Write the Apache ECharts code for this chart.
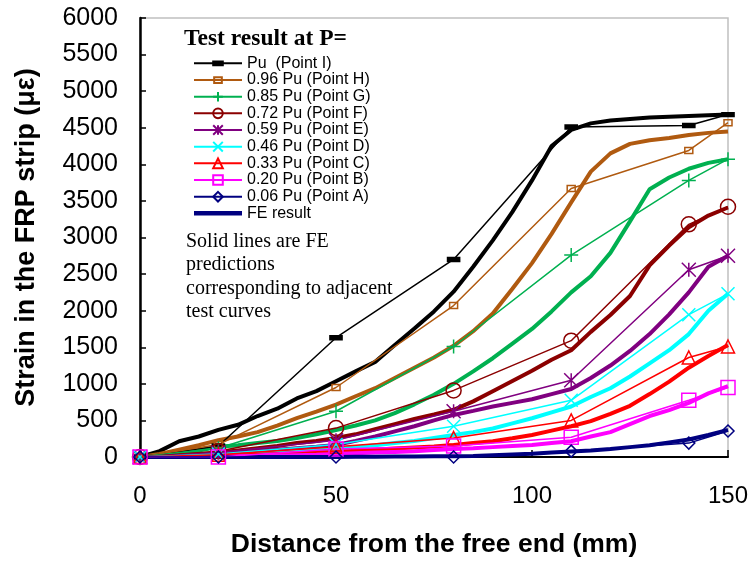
<!DOCTYPE html>
<html><head><meta charset="utf-8">
<script src="https://cdn.jsdelivr.net/npm/echarts@6/dist/echarts.min.js"></script>
<style>html,body{margin:0;padding:0;background:#fff}#c{width:753px;height:563px}</style>
</head><body><div id="c"></div>
<script>
// ---- data ----
const xTicks = [0, 50, 100, 150];
const testX = [0, 20, 50, 80, 110, 140, 150];
const testI = [0, 150, 1630, 2700, 4510, 4530, 4680];
const testH = [0, 170, 950, 2070, 3670, 4190, 4570];
const testG = [0, 120, 625, 1510, 2760, 3780, 4070];
const testF = [0, 80, 395, 910, 1590, 3180, 3420];
const testE = [0, 60, 230, 625, 1050, 2560, 2750];
const testD = [0, 40, 170, 420, 775, 1945, 2230];
const testC = [0, 30, 140, 260, 500, 1360, 1510];
const testB = [0, 0, 110, 150, 270, 775, 950];
const testA = [0, 0, 0, 0, 80, 190, 355];

const feX = [0,5,10,15,20,25,30,35,40,45,50,55,60,65,70,75,80,85,90,95,100,105,110,115,120,125,130,135,140,145,150];
const feI = [0,80,215,280,370,440,560,660,800,900,1035,1170,1300,1530,1755,1990,2260,2600,2960,3350,3780,4250,4470,4560,4600,4620,4640,4650,4660,4670,4680];
const feH = [0,40,100,160,230,280,340,430,530,620,715,830,940,1080,1220,1360,1520,1720,1960,2300,2650,3050,3480,3900,4150,4280,4330,4360,4400,4430,4450];
const feG = [0,20,50,90,140,160,190,220,260,310,370,430,500,600,720,850,1000,1170,1350,1550,1750,1990,2250,2470,2790,3220,3660,3820,3940,4020,4070];
const feF = [0,10,20,35,60,90,120,150,190,220,260,310,380,450,520,580,645,760,900,1040,1180,1330,1460,1710,1940,2200,2620,2890,3140,3300,3410];
const feE = [0,5,10,20,35,55,80,100,120,140,165,220,280,350,420,500,575,630,690,740,790,860,930,1080,1250,1450,1680,1950,2250,2600,2750];
const feD = [0,2,5,10,15,25,40,55,70,90,110,135,160,190,220,260,300,340,390,460,530,610,690,820,940,1100,1280,1460,1680,2000,2230];
const feC = [0,2,5,8,10,20,30,40,50,60,70,85,100,115,130,145,165,190,215,255,300,360,420,490,590,700,860,1030,1220,1380,1530];
const feB = [0,0,0,3,5,10,15,20,25,30,40,50,60,70,80,95,110,120,135,150,165,190,215,280,340,450,560,640,740,870,970];
const feA = [0,0,0,0,0,0,0,0,0,0,0,2,4,6,8,9,10,15,25,35,45,60,75,90,110,135,160,200,240,300,370];

const legendNames = ['Pu  (Point I)', '0.96 Pu (Point H)', '0.85 Pu (Point G)', '0.72 Pu (Point F)',
  '0.59 Pu (Point E)', '0.46 Pu (Point D)', '0.33 Pu (Point C)', '0.20 Pu (Point B)', '0.06 Pu (Point A)', 'FE result'];

// ---- styling ----
const colors = ['#000000', '#b05a10', '#00b050', '#8b0000', '#800080', '#00ffff', '#ff0000', '#ff00ff', '#000080'];
const DASH = 'path://M0,0M12,10M0,3L12,3L12,7L0,7Z';
const SMALLRECT = 'path://M0,0M10,10M1,2L9,2L9,8L1,8Z';
const PLUS = 'path://M0,5L10,5M5,0L5,10';
const CROSS = 'path://M0,0L10,10M10,0L0,10';
const STAR = 'path://M0,0L10,10M10,0L0,10M5,0L5,10';
const symbols = [
  {symbol: DASH, size: [12, 10], fill: '#000'},
  {symbol: SMALLRECT, size: [10, 10], fill: 'none'},
  {symbol: PLUS, size: 14, fill: 'none'},
  {symbol: 'circle', size: 15, fill: 'none'},
  {symbol: STAR, size: 14, fill: 'none'},
  {symbol: CROSS, size: 13, fill: 'none'},
  {symbol: 'triangle', size: 13, fill: 'none'},
  {symbol: 'rect', size: 14, fill: 'none'},
  {symbol: 'diamond', size: 12, fill: 'none'}
];
const tests = [testI, testH, testG, testF, testE, testD, testC, testB, testA];
const fes = [feI, feH, feG, feF, feE, feD, feC, feB, feA];
const zip = (xs, ys) => xs.map((x, i) => [x, ys[i]]);

const series = [];
fes.forEach((ys, k) => {
  series.push({
    name: k === 8 ? 'FE result' : 'FE ' + k,
    type: 'line', data: zip(feX, ys), symbol: 'none', silent: true, z: 2,
    lineStyle: {color: colors[k], width: 4},
    itemStyle: {color: colors[k]}
  });
});
tests.forEach((ys, k) => {
  const s = symbols[k];
  series.push({
    name: legendNames[k], type: 'line', data: zip(testX, ys), z: 3,
    symbol: s.symbol, symbolSize: s.size, showAllSymbol: true,
    lineStyle: {color: colors[k], width: 1.5},
    itemStyle: {color: s.fill, borderColor: colors[k], borderWidth: 1.5}
  });
});

const legendData = legendNames.map(n => n === 'FE result'
  ? {name: n, icon: 'path://M0,0L48,0L48,4.5L0,4.5Z', itemStyle: {color: '#000080', borderWidth: 0}}
  : {name: n});

const chart = echarts.init(document.getElementById('c'), null, {renderer: 'canvas'});
chart.setOption({
  animation: false,
  backgroundColor: '#fff',
  grid: {left: 140, right: 25, top: 18, bottom: 104, show: true, borderColor: '#c0c0c0', borderWidth: 1.5},
  xAxis: {
    type: 'value', min: 0, max: 150, interval: 50,
    name: 'Distance from the free end (mm)', nameLocation: 'middle', nameGap: 74,
    nameTextStyle: {fontFamily: 'Liberation Sans, Arial', fontWeight: 'bold', fontSize: 26.5, color: '#000'},
    axisLine: {lineStyle: {color: '#000', width: 2}},
    axisTick: {inside: true, length: 7, lineStyle: {color: '#000', width: 1.5}},
    axisLabel: {fontFamily: 'Liberation Sans, Arial', fontSize: 24, color: '#000', margin: 27,
      formatter: v => xTicks.includes(v) ? String(v) : ''},
    splitLine: {show: false}
  },
  yAxis: {
    type: 'value', min: 0, max: 6000, interval: 500,
    name: 'Strain in the FRP strip (με)', nameLocation: 'middle', nameGap: 100,
    nameTextStyle: {fontFamily: 'Liberation Sans, Arial', fontWeight: 'bold', fontSize: 27, color: '#000'},
    axisLine: {lineStyle: {color: '#000', width: 2.5}},
    axisTick: {inside: true, length: 6, lineStyle: {color: '#000', width: 1.5}},
    axisLabel: {fontFamily: 'Liberation Sans, Arial', fontSize: 25, color: '#000', margin: 22,
      formatter: v => String(v)},
    splitLine: {show: false}
  },
  legend: {
    data: legendData, orient: 'vertical', left: 188, top: 50,
    itemWidth: 48, itemHeight: 12, itemGap: 0,
    textStyle: {fontFamily: 'Liberation Sans, Arial', fontSize: 16, color: '#000', lineHeight: 16.67},
    selectedMode: false
  },
  graphic: [
    {type: 'text', left: 184, top: 27, style: {text: 'Test result at P=', font: 'bold 23.5px "Liberation Serif", "Times New Roman"', fill: '#000'}},
    {type: 'text', left: 186, top: 229.5, style: {text: 'Solid lines are FE\npredictions\ncorresponding to adjacent\ntest curves', font: '20px "Liberation Serif", "Times New Roman"', lineHeight: 23.5, fill: '#000'}}
  ],
  series: series
});
</script>
</body></html>
